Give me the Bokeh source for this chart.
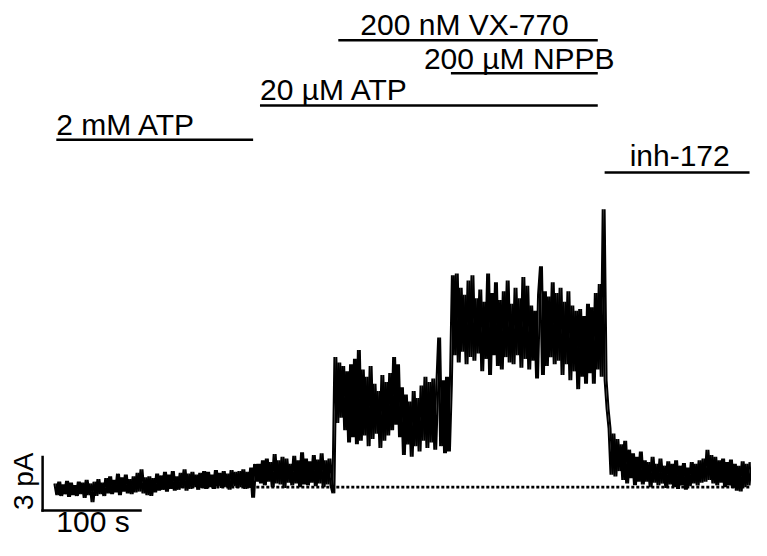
import numpy as np
from bokeh.plotting import figure
from bokeh.models import Range1d
from bokeh.core.properties import value
from bokeh.embed import file_html
from bokeh.resources import INLINE

# ---------------- data ----------------
DT = 2.0  # sampling interval of the drawn trace (s)

# whole-cell current trace (pA), segment by segment
seg_a_t0 = 12
seg_a = [0.2, -0.45, 0.3, -0.5, 0.15, -0.4, 0.35, -0.55, 0.25, -0.45, 0.1, -0.5, 0.3, -0.4,
         0.25, -0.6, 0.4, -0.45, 0.2, -0.85, 0.3, -0.5, 0.45, -0.4, 0.25, -0.5,
         0.5, -0.35, 0.6, -0.4, 0.4, -0.3, 0.75, -0.45, 0.55, -0.25, 0.7, -0.35, 0.45, -0.4,
         0.6, -0.3, 0.8, -0.25, 1.0, -0.35, 0.55, -0.45, 0.6, -0.5, 0.5, -0.3,
         0.75, -0.2, 0.65, -0.15, 0.85, -0.25, 0.7, -0.1, 0.9, -0.2, 0.6, -0.15, 0.8, -0.05,
         1.0, -0.2, 0.75, -0.1, 0.85, 0.0, 0.7, -0.15, 0.8, -0.05, 0.9, -0.1,
         0.85, 0.0, 0.7, -0.1, 0.95, 0.05, 0.8, -0.05, 0.9, 0.0, 0.75, -0.15, 0.95, 0.05,
         0.85, -0.05, 0.9, 0.0, 1.0, -0.1, 0.85, -0.05, 1.1, -0.6, 1.3, 0.3]

seg_b_t0 = 220
seg_b = [1.3, 0.2, 1.5, 0.1, 1.6, 0.3, 1.4, 0.0, 1.85, 0.2, 1.5, 0.15, 1.7, -0.05, 1.6, 0.25,
         1.3, 0.1, 1.75, 0.2, 1.5, 0.0, 1.95, 0.15, 1.6, 0.1, 1.45, 0.25, 1.8, 0.05, 1.55, 0.2,
         1.9, 0.0, 1.5, 0.15, 1.6, 0.1, -0.35]

seg_c_t0 = 298
seg_c = [7.3, 3.6, 7.0, 3.9, 6.8, 3.2, 6.5, 2.5, 6.9, 2.8, 7.2, 2.4, 7.7, 2.6, 6.6, 2.9,
         6.2, 2.3, 6.8, 2.7, 5.8, 3.0, 5.4, 2.2, 6.3, 2.6, 5.9, 2.9, 6.4, 3.2, 7.3, 3.5,
         6.9, 2.8, 5.6, 1.8, 5.2, 2.4, 4.8, 1.7, 5.4, 2.3, 5.0, 2.0, 5.7, 2.6, 6.2, 2.2,
         5.9, 2.5, 6.1, 2.1, 5.6, 8.4, 2.3, 6.0, 1.9, 6.2, 2.0, 5.8]

seg_d_t0 = 418
seg_d = [11.9, 7.4, 12.0, 7.0, 11.2, 7.6, 10.8, 6.9, 11.6, 7.3, 11.9, 7.1, 10.6, 7.5, 11.1, 6.5,
         10.4, 7.2, 12.0, 6.3, 10.9, 7.4, 11.5, 6.8, 10.5, 6.6, 11.0, 7.3, 11.6, 7.0, 10.3, 6.9,
         11.2, 7.4, 10.6, 6.7, 11.8, 7.2, 11.3, 6.6, 10.2, 7.1, 9.9, 6.1, 10.8, 12.4, 6.3, 11.0,
         6.8, 10.7, 7.3, 11.5, 6.9, 10.9, 7.1, 11.2, 6.3, 10.4, 6.9, 11.0, 6.0, 10.2, 6.5, 9.9,
         5.5, 10.0, 6.2, 9.6, 5.8, 10.3, 6.4, 10.1, 5.8, 10.9, 6.6, 11.4, 6.2, 15.6]

seg_e_t0 = 574
seg_e = [6.0, 4.4, 3.3, 0.7, 3.0, 0.6, 2.7, 0.9, 2.4, 0.4, 2.6, 0.2, 2.1, 0.5, 1.9, 0.1,
         1.7, 0.3, 2.0, 0.15, 1.5, 0.3, 1.4, 0.0, 1.7, 0.25, 1.3, 0.1, 1.6, 0.2, 1.2, -0.05,
         1.45, 0.15, 1.3, 0.0, 1.5, -0.1, 1.2, 0.1, 1.35, -0.15, 1.1, 0.05, 1.4, 0.2, 1.3, 0.1,
         1.5, 0.25, 1.6, 0.3, 2.1, 0.4, 1.8, 0.2, 1.7, 0.1, 1.5, 0.25, 1.6, 0.0, 1.4, 0.1,
         1.55, -0.05, 1.3, -0.2, 1.2, -0.25, 1.45, 0.0, 1.3, 0.1, 1.4]

# drug applications (s)
drug_names = ["2 mM ATP", "20 µM ATP", "200 nM VX-770", "200 µM NPPB", "inh-172"]
drug_start = [14, 222, 302, 417, 574]
drug_end = [215, 567, 567, 567, 722]

# scale bars
scale_time = 100   # s
scale_curr = 3     # pA
zero_line_span = [14, 724]  # s

# ---------------- layout (reference-pixel positions) ----------------
bar_y_px = [143.5, 108, 41, 75, 177]
label_y_px = [128, 92, 25, 60, 160]
label_dx_px = [0, 0, 22, -27, 25]
FONT = value("Liberation Sans")
FS = "30px"

W, H = 751, 540
p = figure(width=W, height=H, output_backend="svg", toolbar_location=None,
           x_range=Range1d(-43, 724), y_range=Range1d(-3.0, 27.327),
           x_axis_location=None, y_axis_location=None, min_border=0,
           outline_line_color=None, background_fill_color="white",
           border_fill_color="white")
p.grid.visible = False
p.extra_y_ranges = {"px": Range1d(556, 0)}
p.extra_x_ranges = {"px": Range1d(0, 767), "shift": Range1d(-43 - DT, 724 - DT)}

# zero (baseline) dotted line
p.line(zero_line_span, [0, 0], line_color="black", line_width=2.8, line_dash="3 2")

# trace (drawn twice, one sample apart, so the noise band reads as solid)
ts, vs = [], []
for t0, seg in [(seg_a_t0, seg_a), (seg_b_t0, seg_b), (seg_c_t0, seg_c),
                (seg_d_t0, seg_d), (seg_e_t0, seg_e)]:
    ts.extend(list(t0 + DT * np.arange(len(seg))))
    vs.extend(seg)
p.line(ts, vs, line_color="black", line_width=2.0, line_join="bevel")
p.line(ts, vs, line_color="black", line_width=2.0, line_join="bevel", x_range_name="shift")

# drug bars and labels
p.segment(x0=drug_start, x1=drug_end, y0=bar_y_px, y1=bar_y_px, y_range_name="px",
          line_color="black", line_width=2.5)
p.text(x=drug_start, y=label_y_px, text=drug_names, x_offset=label_dx_px, y_range_name="px",
       text_font=FONT, text_font_size=FS, text_color="black",
       text_align="left", text_baseline="alphabetic")

# scale bars (data units)
sb_y0 = -1.31
p.segment(x0=[0, 0], x1=[scale_time, 0], y0=[sb_y0, sb_y0], y1=[sb_y0, sb_y0 + scale_curr],
          line_color="black", line_width=2.5, line_cap="square")
p.text(x=[57], y=[536], text=[f"{scale_time} s"], x_range_name="px", y_range_name="px",
       text_font=FONT, text_font_size=FS, text_color="black",
       text_align="left", text_baseline="alphabetic")
p.text(x=[23], y=[495], text=[f"{scale_curr} pA"], x_range_name="px", y_range_name="px",
       angle=np.pi / 2, text_font=FONT, text_font_size="28px", text_color="black",
       text_align="center", text_baseline="alphabetic")

open("out.html", "w").write(file_html(p, INLINE))
